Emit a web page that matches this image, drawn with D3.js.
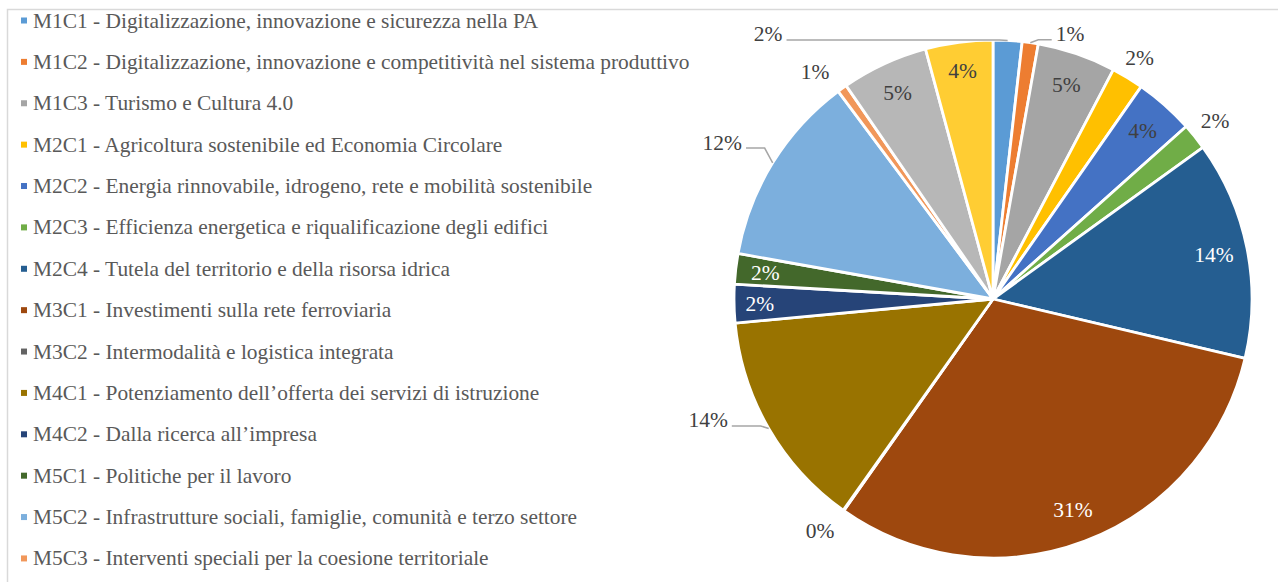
<!DOCTYPE html>
<html>
<head>
<meta charset="utf-8">
<script src="https://cdn.jsdelivr.net/npm/d3@7"></script>
<style>
  body { margin: 0; background: #fff; }
</style>
</head>
<body>
<svg id="chart" width="1278" height="582"></svg>
<script>
// PNRR components, share of total (%)
var categories = [
  "M1C1 - Digitalizzazione, innovazione e sicurezza nella PA",
  "M1C2 - Digitalizzazione, innovazione e competitività nel sistema produttivo",
  "M1C3 - Turismo e Cultura 4.0",
  "M2C1 - Agricoltura sostenibile ed Economia Circolare",
  "M2C2 - Energia rinnovabile, idrogeno, rete e mobilità sostenibile",
  "M2C3 - Efficienza energetica e riqualificazione degli edifici",
  "M2C4 - Tutela del territorio e della risorsa idrica",
  "M3C1 - Investimenti sulla rete ferroviaria",
  "M3C2 - Intermodalità e logistica integrata",
  "M4C1 - Potenziamento dell\u2019offerta dei servizi di istruzione",
  "M4C2 - Dalla ricerca all\u2019impresa",
  "M5C1 - Politiche per il lavoro",
  "M5C2 - Infrastrutture sociali, famiglie, comunità e terzo settore",
  "M5C3 - Interventi speciali per la coesione territoriale",
  "M6C1 - Reti di prossimità, strutture e telemedicina per l\u2019assistenza sanitaria territoriale",
  "M6C2 - Innovazione, ricerca e digitalizzazione del servizio sanitario nazionale"
];
var values = [1.8, 1.0, 4.9, 2.0, 3.7, 1.65, 13.65, 31.1, 0.05, 13.7, 2.4, 1.9, 12.0, 0.6, 5.4, 4.2];

var colors = ["#5B9BD5", "#ED7D31", "#A5A5A5", "#FFC000", "#4472C4", "#70AD47", "#255E91", "#9E480E",
              "#636363", "#997300", "#264478", "#43682B", "#7CAFDD", "#F1975A", "#B7B7B7", "#FFCD33"];

// where excel put each data label: inside / outside, optional angle (deg) and radius factor
var labelMode = ["out","out","in","out","in","out","in","in","out","out","in","in","out","out","in","in"];
var labelAngle = [319.7, 16.2, null, null, null, null, null, null, 216.8, 247, null, null, 300.1, 321.9, null, null];
var labelK = [1.342, 1.066, 0.875, 1.09, 0.87, 1.10, 0.87, 0.87, 1.114, 1.195, 0.90, 0.885, 1.208, 1.114, 0.877, 0.89];
var leader = [true, true, false, false, false, false, false, false, false, true, false, false, true, false, false, false];
var darkSlices = [6, 7, 10, 11];

// times-like font
var FONT = "'" + ["Liberation", "Serif"].join(" ") + "'";
var W = 1278, H = 582;

var data = categories.map(function(c, i) { return {name: c, value: values[i], i: i}; });
var total = d3.sum(values);
var fmt = d3.format(".0%");

var svg = d3.select("#chart");
var cx = 993, cy = 299, R = 259;

// chart area border (only top and left visible)
svg.append("path")
  .attr("d", "M7.5," + H + "V9.5H" + W)
  .attr("fill", "none")
  .attr("stroke", "#D9D9D9")
  .attr("stroke-width", 1.5);

// legend - the last entries fall below the visible area, like in the original
var legY = d3.scalePoint().domain(d3.range(categories.length)).range([20, 20 + 41.38 * (categories.length - 1)]);
var leg = svg.append("g").selectAll("g")
  .data(data.filter(d => legY(d.i) + 12 < H)).enter().append("g")
  .attr("transform", d => "translate(0," + legY(d.i) + ")");
leg.append("rect")
  .attr("x", 21).attr("y", -2.5).attr("width", 6).attr("height", 6)
  .attr("fill", d => colors[d.i]);
leg.append("text")
  .attr("x", 33).attr("y", 7.5)
  .style("font-family", FONT)
  .attr("font-size", 21.4)
  .attr("fill", "#595959")
  .text(d => d.name);

// pie
var pie = d3.pie().sort(null).value(d => d.value);
var arcs = pie(data);
var arc = d3.arc().innerRadius(0).outerRadius(R);

var g = svg.append("g").attr("transform", "translate(" + cx + "," + cy + ")");
g.selectAll("path.slice")
  .data(arcs).enter().append("path")
  .attr("class", "slice")
  .attr("d", arc)
  .attr("fill", d => colors[d.data.i])
  .attr("stroke", "#fff")
  .attr("stroke-width", 2.8)
  .attr("stroke-linejoin", "round");

function polar(a, r) { return [Math.sin(a) * r, -Math.cos(a) * r]; }

arcs.forEach(function(d) {
  var i = d.data.i;
  var mid = (d.startAngle + d.endAngle) / 2;
  var a = labelAngle[i] == null ? mid : labelAngle[i] * Math.PI / 180;
  var p = polar(a, R * labelK[i]);
  var txt = fmt(d.data.value / total);
  var col = labelMode[i] == "in" && darkSlices.indexOf(i) >= 0 ? "#FFFFFF" : "#404040";
  var t = g.append("text")
    .attr("x", p[0]).attr("y", p[1])
    .attr("dy", "0.35em")
    .attr("text-anchor", "middle")
    .style("font-family", FONT)
    .attr("font-size", 21.5)
    .attr("fill", col)
    .text(txt);

  if (leader[i]) {
    var w = t.node().getComputedTextLength();
    var end = polar(mid, R);
    var side = end[0] > p[0] ? 1 : -1;
    var sx = p[0] + side * (w / 2 + 4), sy = p[1] + 6;
    var ex = end[0] - side * 8;
    if ((ex - sx) * side < 0) ex = sx;
    g.append("path")
      .attr("d", "M" + sx + "," + sy + "H" + ex + "L" + end[0] + "," + end[1])
      .attr("fill", "none")
      .attr("stroke", "#A6A6A6")
      .attr("stroke-width", 1.5);
  }
});
</script>
</body>
</html>
